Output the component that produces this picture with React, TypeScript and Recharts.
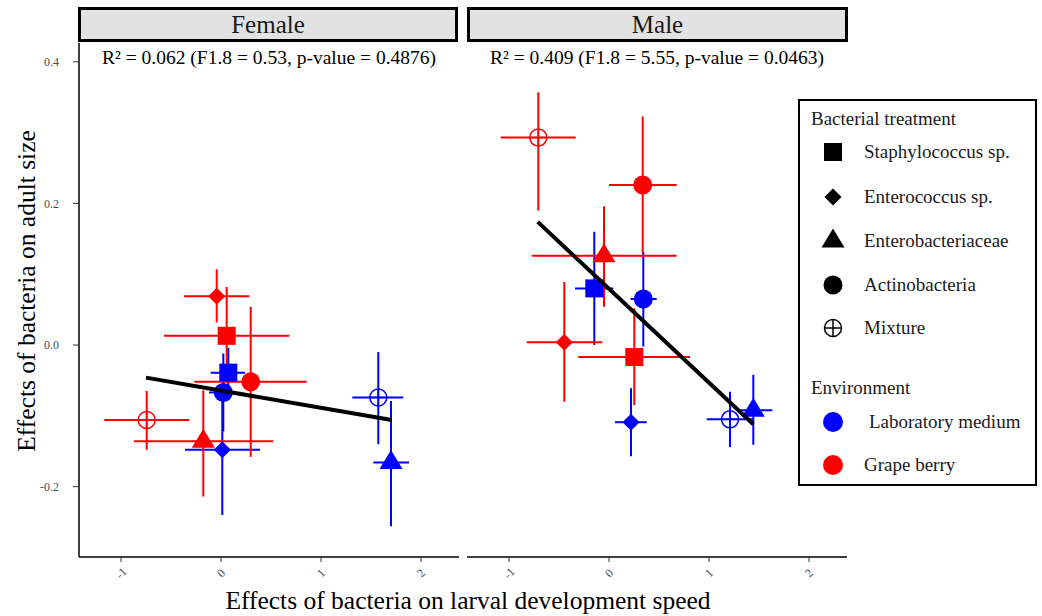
import React from 'react';
import { ScatterChart, Scatter, XAxis, YAxis, ErrorBar } from 'recharts';

const FONT = '"Liberation Serif", "Times New Roman", serif';
const RED = '#FF0000';
const BLUE = '#0000FF';
const TICK_GREY = '#4d4d4d';

const treatments = ['Staphylococcus sp.', 'Enterococcus sp.', 'Enterobacteriaceae', 'Actinobacteria', 'Mixture'];
const environments = ['Laboratory medium', 'Grape berry'];
const sexes = ['Female', 'Male'];
const fitStats = [
  'R² = 0.062 (F1.8 = 0.53, p-value = 0.4876)',
  'R² = 0.409 (F1.8 = 5.55, p-value = 0.0463)',
];

const xTicks = [-1, 0, 1, 2];
const yTicks = [-0.2, 0, 0.2, 0.4];
const xDomain = [-1.42, 2.38];
const yDomain = [-0.2994, 0.4266];

// order of rows: Staphylococcus, Enterococcus, Enterobacteriaceae, Actinobacteria, Mixture
const femaleLabX = [0.073, 0.013, 1.7, 0.023, 1.573];
const femaleLabY = [-0.039, -0.148, -0.166, -0.067, -0.074];
const femaleLabXRange = [[-0.103, 0.24], [-0.36, 0.39], [1.523, 1.88], [-0.12, 0.123], [1.313, 1.823]];
const femaleLabYRange = [[-0.078, -0.004], [-0.24, -0.06], [-0.256, -0.079], [-0.122, -0.012], [-0.14, -0.01]];

const femaleGrapeX = [0.057, -0.043, -0.177, 0.297, -0.743];
const femaleGrapeY = [0.013, 0.069, -0.136, -0.052, -0.106];
const femaleGrapeXRange = [[-0.57, 0.683], [-0.37, 0.283], [-0.87, 0.523], [-0.267, 0.857], [-1.167, -0.317]];
const femaleGrapeYRange = [[-0.047, 0.082], [0.032, 0.107], [-0.214, -0.064], [-0.158, 0.054], [-0.148, -0.065]];

const maleLabX = [-0.147, 0.22, 1.443, 0.343, 1.21];
const maleLabY = [0.08, -0.109, -0.092, 0.065, -0.105];
const maleLabXRange = [[-0.34, 0.043], [0.06, 0.377], [1.31, 1.633], [0.217, 0.477], [0.977, 1.443]];
const maleLabYRange = [[0.0, 0.16], [-0.157, -0.061], [-0.141, -0.042], [-0.002, 0.132], [-0.144, -0.066]];

const maleGrapeX = [0.253, -0.447, -0.05, 0.337, -0.707];
const maleGrapeY = [-0.017, 0.004, 0.126, 0.226, 0.293];
const maleGrapeXRange = [[-0.307, 0.81], [-0.823, -0.067], [-0.773, 0.677], [0.0, 0.677], [-1.083, -0.333]];
const maleGrapeYRange = [[-0.085, 0.052], [-0.08, 0.089], [0.054, 0.196], [0.13, 0.323], [0.19, 0.357]];

// fitted regression lines (end points)
const femaleFitX = [-0.75, 1.707];
const femaleFitY = [-0.046, -0.106];
const maleFitX = [-0.713, 1.443];
const maleFitY = [0.174, -0.112];

const toRows = (xs: number[], ys: number[], xr: number[][], yr: number[][]) =>
  xs.map((x, i) => ({
    kind: i,
    x,
    y: ys[i],
    ex: [x - xr[i][0], xr[i][1] - x],
    ey: [ys[i] - yr[i][0], yr[i][1] - ys[i]],
  }));

const toLine = (xs: number[], ys: number[]) => xs.map((x, i) => ({ x, y: ys[i] }));

function symbol(kind: number, cx: number, cy: number, color: string) {
  switch (kind) {
    case 0:
      return <rect x={cx - 9} y={cy - 9} width={18} height={18} fill={color} />;
    case 1:
      return <polygon points={`${cx},${cy - 8.5} ${cx + 8.5},${cy} ${cx},${cy + 8.5} ${cx - 8.5},${cy}`} fill={color} />;
    case 2:
      return <polygon points={`${cx},${cy - 12.5} ${cx + 11.5},${cy + 6.5} ${cx - 11.5},${cy + 6.5}`} fill={color} />;
    case 3:
      return <circle cx={cx} cy={cy} r={9.5} fill={color} />;
    default:
      return (
        <g>
          <circle cx={cx} cy={cy} r={8.5} fill="none" stroke={color} strokeWidth={1.5} />
          <line x1={cx - 8.5} x2={cx + 8.5} y1={cy} y2={cy} stroke={color} strokeWidth={1.5} />
          <line x1={cx} x2={cx} y1={cy - 8.5} y2={cy + 8.5} stroke={color} strokeWidth={1.5} />
        </g>
      );
  }
}

const XTick = (props: any) => {
  const { x, y, payload } = props;
  return (
    <g transform={`translate(${x},${y + 9}) rotate(-45)`}>
      <text textAnchor="middle" dy="0.35em" fill={TICK_GREY} fontSize={12} fontFamily={FONT}>
        {payload.value}
      </text>
    </g>
  );
};

const YTick = (props: any) => {
  const { x, y, payload } = props;
  return (
    <text x={x} y={y} textAnchor="end" dy="0.35em" fill={TICK_GREY} fontSize={12} fontFamily={FONT}>
      {Number(payload.value).toFixed(1)}
    </text>
  );
};

const Empty = () => <g />;

type PanelProps = {
  left: number;
  width: number;
  showY: boolean;
  lab: any[];
  grape: any[];
  fit: any[];
};

const Panel = ({ left, width, showY, lab, grape, fit }: PanelProps) => (
  <div style={{ position: 'absolute', left, top: 0 }}>
    <ScatterChart width={width} height={616} margin={{ top: 43, right: 0, bottom: 0, left: 0 }}>
      <XAxis
        type="number"
        dataKey="x"
        domain={xDomain}
        ticks={xTicks}
        allowDataOverflow
        interval={0}
        height={59}
        tickSize={5}
        tick={<XTick />}
        tickLine={{ stroke: '#333333' }}
        axisLine={{ stroke: '#000000', strokeWidth: 1.5 }}
      />
      <YAxis
        type="number"
        dataKey="y"
        domain={yDomain}
        ticks={yTicks}
        allowDataOverflow
        hide={!showY}
        width={79}
        tickSize={6}
        tickMargin={14}
        tick={<YTick />}
        tickLine={{ stroke: '#333333' }}
        axisLine={{ stroke: '#000000', strokeWidth: 1.5 }}
      />
      <Scatter data={lab} shape={<Empty />} isAnimationActive={false}>
        <ErrorBar dataKey="ex" direction="x" width={0} stroke={BLUE} strokeWidth={2} isAnimationActive={false} />
        <ErrorBar dataKey="ey" direction="y" width={0} stroke={BLUE} strokeWidth={2} isAnimationActive={false} />
      </Scatter>
      <Scatter data={grape} shape={<Empty />} isAnimationActive={false}>
        <ErrorBar dataKey="ex" direction="x" width={0} stroke={RED} strokeWidth={2} isAnimationActive={false} />
        <ErrorBar dataKey="ey" direction="y" width={0} stroke={RED} strokeWidth={2} isAnimationActive={false} />
      </Scatter>
      <Scatter
        data={lab}
        isAnimationActive={false}
        shape={(p: any) => symbol(p.payload.kind, p.cx, p.cy, BLUE)}
      />
      <Scatter
        data={grape}
        isAnimationActive={false}
        shape={(p: any) => symbol(p.payload.kind, p.cx, p.cy, RED)}
      />
      <Scatter
        data={fit}
        isAnimationActive={false}
        line={{ stroke: '#000000', strokeWidth: 4 }}
        lineType="joint"
        shape={<Empty />}
      />
    </ScatterChart>
  </div>
);

const Strip = ({ left, width, label }: { left: number; width: number; label: string }) => (
  <div
    style={{
      position: 'absolute',
      left,
      top: 7,
      width,
      height: 35,
      boxSizing: 'border-box',
      border: '3px solid #000',
      background: '#e2e2e2',
      fontFamily: FONT,
      fontSize: 25,
      lineHeight: '29px',
      textAlign: 'center',
      color: '#1a1a1a',
    }}
  >
    {label}
  </div>
);

const legendText = (top: number, left: number, text: string) => (
  <div
    style={{
      position: 'absolute',
      left,
      top: top - 12,
      height: 24,
      lineHeight: '24px',
      whiteSpace: 'nowrap',
      fontSize: 19,
      color: '#1a1a1a',
    }}
  >
    {text}
  </div>
);

const Legend = () => {
  const shapeY = [53, 98, 142, 186, 229];
  const envY = [323, 366];
  const envColors = [BLUE, RED];
  return (
    <div
      style={{
        position: 'absolute',
        left: 798,
        top: 99,
        width: 239,
        height: 387,
        boxSizing: 'border-box',
        border: '2px solid #000',
        background: '#fff',
        fontFamily: FONT,
      }}
    >
      <svg width={235} height={383} style={{ position: 'absolute', left: 0, top: 0 }}>
        {treatments.map((_, i) => (
          <g key={i}>{symbol(i, 33, shapeY[i] - 2, '#000')}</g>
        ))}
        {environments.map((_, i) => (
          <circle key={i} cx={33} cy={envY[i] - 2} r={10} fill={envColors[i]} />
        ))}
      </svg>
      {legendText(18, 11, 'Bacterial treatment')}
      {treatments.map((t, i) => (
        <React.Fragment key={t}>{legendText(shapeY[i] - 2, 64, t)}</React.Fragment>
      ))}
      {legendText(287, 11, 'Environment')}
      {legendText(envY[0] - 2, 69, environments[0])}
      {legendText(envY[1] - 2, 64, environments[1])}
    </div>
  );
};

export default function App() {
  const femaleLab = toRows(femaleLabX, femaleLabY, femaleLabXRange, femaleLabYRange);
  const femaleGrape = toRows(femaleGrapeX, femaleGrapeY, femaleGrapeXRange, femaleGrapeYRange);
  const maleLab = toRows(maleLabX, maleLabY, maleLabXRange, maleLabYRange);
  const maleGrape = toRows(maleGrapeX, maleGrapeY, maleGrapeXRange, maleGrapeYRange);

  return (
    <div
      style={{
        position: 'absolute',
        left: 0,
        top: 0,
        width: 1042,
        height: 616,
        background: '#fff',
        overflow: 'hidden',
        fontFamily: FONT,
      }}
    >
      <Panel left={0} width={459} showY lab={femaleLab} grape={femaleGrape} fit={toLine(femaleFitX, femaleFitY)} />
      <Panel left={467} width={380} showY={false} lab={maleLab} grape={maleGrape} fit={toLine(maleFitX, maleFitY)} />

      <Strip left={78} width={380} label={sexes[0]} />
      <Strip left={467} width={381} label={sexes[1]} />

      <div style={{ position: 'absolute', left: 79, width: 380, top: 47, textAlign: 'center', fontSize: 19.5, lineHeight: '22px', whiteSpace: 'nowrap' }}>
        {fitStats[0]}
      </div>
      <div style={{ position: 'absolute', left: 467, width: 380, top: 47, textAlign: 'center', fontSize: 19.5, lineHeight: '22px', whiteSpace: 'nowrap' }}>
        {fitStats[1]}
      </div>

      <div
        style={{
          position: 'absolute',
          left: 27,
          top: 291,
          transform: 'translate(-50%, -50%) rotate(-90deg)',
          whiteSpace: 'nowrap',
          fontSize: 25.5,
          lineHeight: '28px',
          color: '#000',
        }}
      >
        Effects of bacteria on adult size
      </div>
      <div
        style={{
          position: 'absolute',
          left: 468,
          top: 601,
          transform: 'translate(-50%, -50%)',
          whiteSpace: 'nowrap',
          fontSize: 25.5,
          lineHeight: '28px',
          color: '#000',
        }}
      >
        Effects of bacteria on larval development speed
      </div>

      <Legend />
    </div>
  );
}
